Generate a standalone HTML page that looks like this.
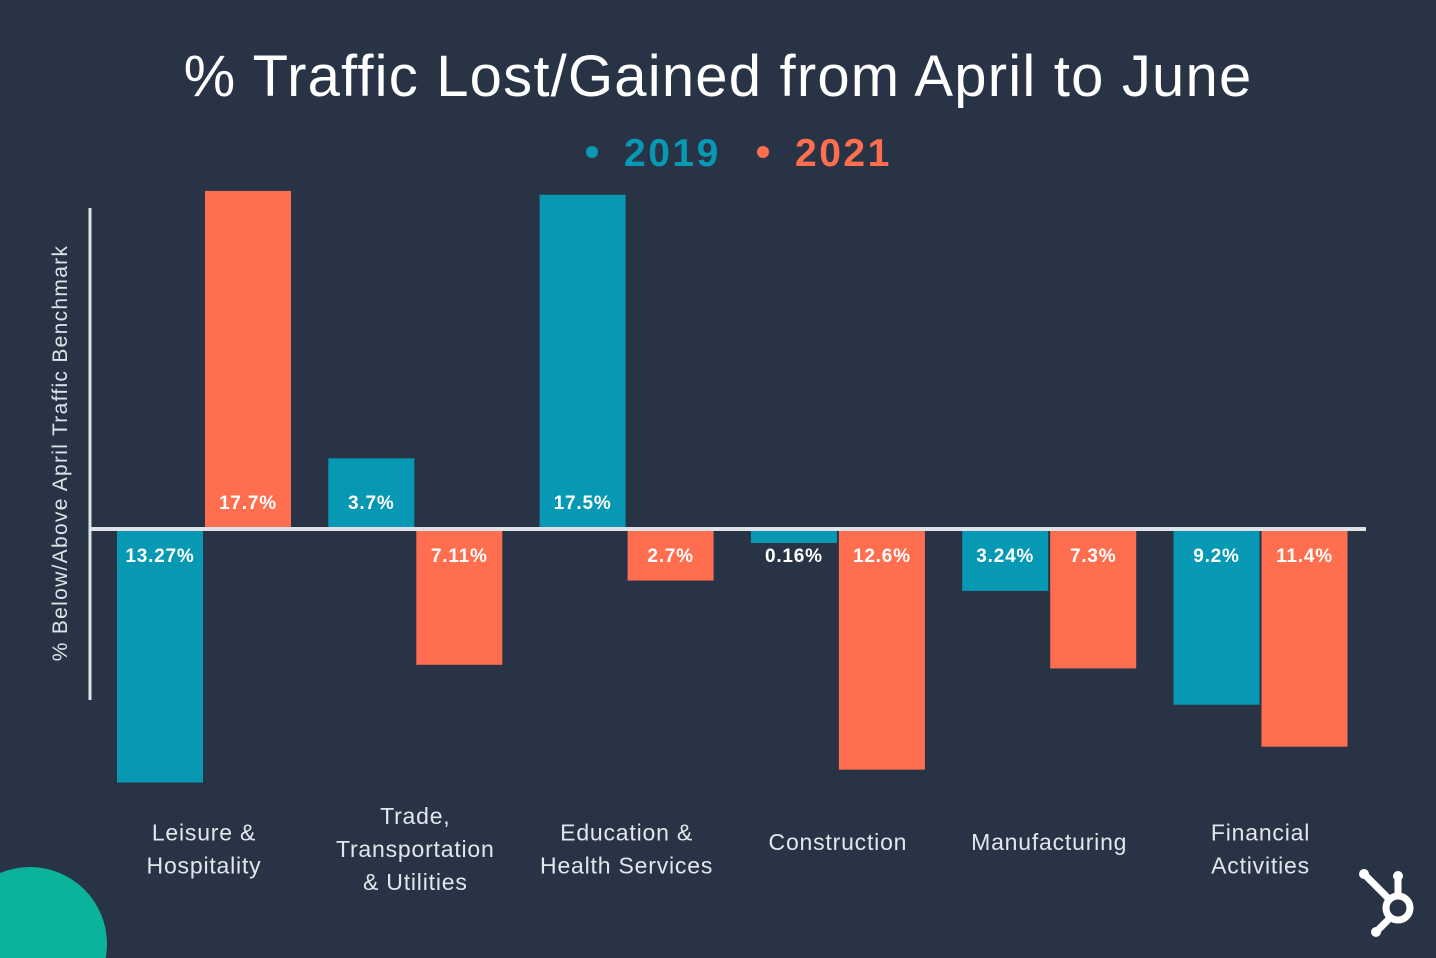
<!DOCTYPE html>
<html><head><meta charset="utf-8"><style>
body{margin:0;width:1436px;height:958px;background:#283445;overflow:hidden;font-family:"Liberation Sans",sans-serif;}
svg{display:block}
</style></head><body>
<svg width="1436" height="958">
<circle cx="30" cy="944" r="77" fill="#0bb39a"/>
<text x="718" y="96" text-anchor="middle" fill="#ffffff" font-size="58" letter-spacing="1.2">% Traffic Lost/Gained from April to June</text>
<g>
<circle cx="592" cy="152" r="6" fill="#0798b4"/>
<text x="624" y="166" fill="#0798b4" font-size="39" font-weight="bold" letter-spacing="2.5">2019</text>
<circle cx="763" cy="152" r="6" fill="#ff6e4e"/>
<text x="795" y="166" fill="#ff6e4e" font-size="39" font-weight="bold" letter-spacing="2.5">2021</text>
</g>
<text transform="translate(67,453) rotate(-90)" text-anchor="middle" fill="#dfe3e8" font-size="21" letter-spacing="1.3">% Below/Above April Traffic Benchmark</text>
<line x1="90" y1="208" x2="90" y2="700" stroke="#dfe3e8" stroke-width="3"/>
<g id="bars"></g>
<line x1="90" y1="529" x2="1366" y2="529" stroke="#dfe3e8" stroke-width="4"/>
<g id="labels"></g>
<g id="cats"></g>
<g transform="translate(1390,902)" fill="none" stroke="#ffffff" stroke-width="7" stroke-linecap="round">
<circle cx="8" cy="6" r="12"/>
<line x1="-2" y1="-4" x2="-24" y2="-26"/>
<line x1="8" y1="-6" x2="8" y2="-22"/>
<line x1="0" y1="16" x2="-12" y2="28"/>
<circle cx="-26" cy="-28" r="5" fill="#fff" stroke="none"/>
<circle cx="8" cy="-26" r="5" fill="#fff" stroke="none"/>
<circle cx="-14" cy="30" r="5" fill="#fff" stroke="none"/>
</g>
</svg>
<script>
const categories=[["Leisure &","Hospitality"],["Trade,","Transportation","& Utilities"],["Education &","Health Services"],["Construction"],["Manufacturing"],["Financial","Activities"]];
const values2019=[-13.27,3.7,17.5,-0.16,-3.24,-9.2];
const values2021=[17.7,-7.11,-2.7,-12.6,-7.3,-11.4];
const labels2019=["13.27%","3.7%","17.5%","0.16%","3.24%","9.2%"];
const labels2021=["17.7%","7.11%","2.7%","12.6%","7.3%","11.4%"];
const NS="http://www.w3.org/2000/svg";
const zeroY=529, pxPer=19.1;
const y=v=>zeroY-v*pxPer;
const cx=i=>204+i*211.3;
const bars=document.getElementById('bars'),labs=document.getElementById('labels'),cats=document.getElementById('cats');
function mk(tag,at){const e=document.createElementNS(NS,tag);for(const k in at)e.setAttribute(k,at[k]);return e;}
[[values2019,labels2019,"#0798b4",-87,"2019"],[values2021,labels2021,"#ff6e4e",1,"2021"]].forEach(([vals,lb,col,off,yr])=>{
vals.forEach((v,i)=>{
const x=cx(i)+off, h=Math.max(Math.abs(y(v)-zeroY),14), top=v>=0?zeroY-h:zeroY;
const r=mk('rect',{x:x,y:top,width:86,height:h,fill:col});


bars.appendChild(r);
const t=mk('text',{x:x+43,y:v>=0?509:562,'text-anchor':'middle',fill:'#fff','font-size':19,'font-weight':'bold','letter-spacing':0.8});
t.textContent=lb[i];


labs.appendChild(t);
});});
categories.forEach((c,i)=>{
const n=c.length, start=n===1?850:849-(n-1)*16.5+8;
c.forEach((line,j)=>{
const t=mk('text',{x:cx(i),y:start+j*33,'text-anchor':'middle',fill:'#e3e7ec','font-size':23,'letter-spacing':0.8});
t.textContent=line;


cats.appendChild(t);
});});
</script>
</body></html>
